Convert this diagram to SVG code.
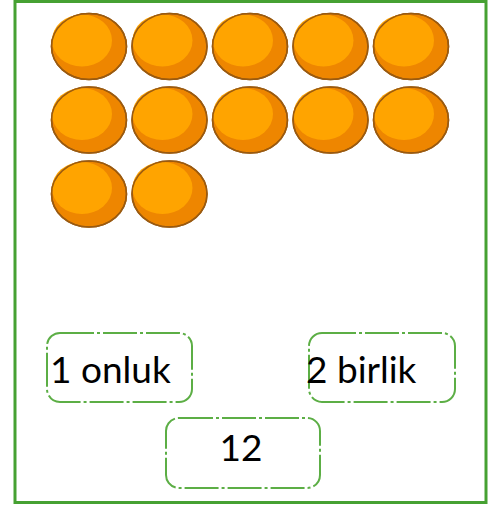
<svg xmlns="http://www.w3.org/2000/svg" width="495" height="506" viewBox="0 0 495 506">
<style>
.frame{fill:#fff;stroke:#46a132;stroke-width:3}
.box{fill:#fff;stroke:#5cae45;stroke-width:2;stroke-dasharray:34 3 3 3}
.lbl{font-family:Lato,"Open Sans",sans-serif;font-size:37px;fill:#000}
.o{fill:#ee8600;stroke:#9a5a10;stroke-width:1.5}
.h{fill:#ffa400}
</style>
<defs>
<g id="ball">
<ellipse class="o" cx="0" cy="0" rx="37.5" ry="33"/>
<ellipse class="h" cx="-7" cy="-6" rx="30" ry="26"/>
<ellipse cx="0" cy="0" rx="37.5" ry="33" fill="none" stroke="#9a5a10" stroke-width="1.5"/>
</g>
</defs>
<rect class="frame" x="15" y="1.5" width="471" height="501"/>
<g id="balls">
<use href="#ball" x="89" y="46.5"/>
<use href="#ball" x="169.5" y="46.5"/>
<use href="#ball" x="250" y="46.5"/>
<use href="#ball" x="330.5" y="46.5"/>
<use href="#ball" x="411" y="46.5"/>
<use href="#ball" x="89" y="120"/>
<use href="#ball" x="169.5" y="120"/>
<use href="#ball" x="250" y="120"/>
<use href="#ball" x="330.5" y="120"/>
<use href="#ball" x="411" y="120"/>
<use href="#ball" x="89" y="194"/>
<use href="#ball" x="169.5" y="194"/>
</g>
<g id="onluk">
<rect class="box" x="47" y="333" width="145" height="69" rx="13"/>
<text class="lbl" x="50" y="383">1 onluk</text>
</g>
<g id="birlik">
<rect class="box" x="309" y="333" width="146" height="69" rx="13"/>
<text class="lbl" x="306" y="383">2 birlik</text>
</g>
<g id="total">
<rect class="box" x="166" y="418" width="154" height="70" rx="13"/>
<text class="lbl" x="241" y="461" text-anchor="middle">12</text>
</g>
<g id="connectors"/>
</svg>
